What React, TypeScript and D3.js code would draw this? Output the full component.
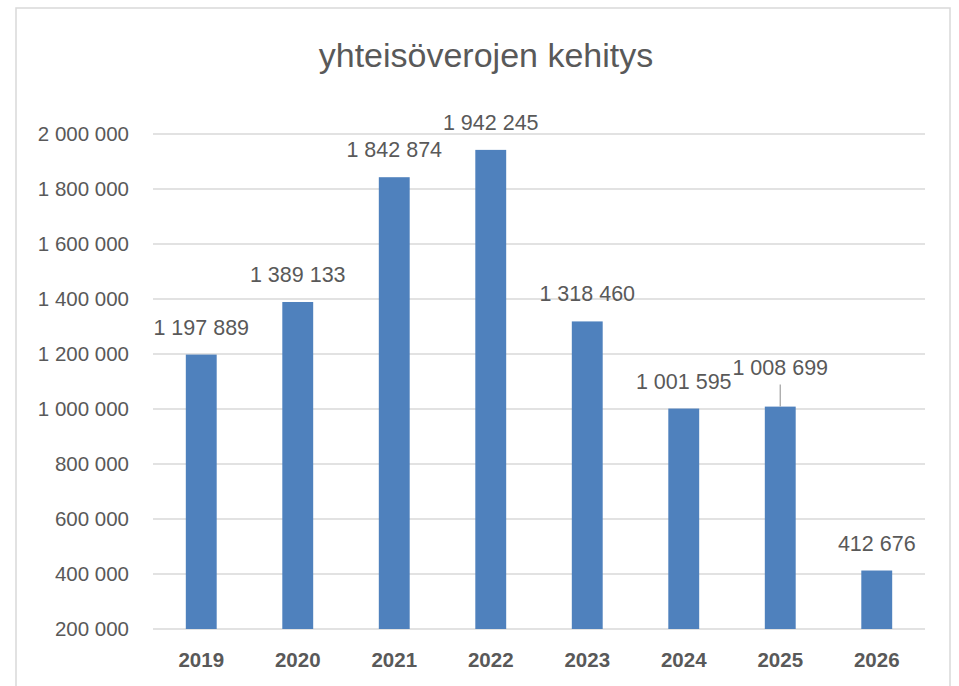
import React from "react";
import * as d3 from "d3";

const categories = ["2019", "2020", "2021", "2022", "2023", "2024", "2025", "2026"];
const values = [1197889, 1389133, 1842874, 1942245, 1318460, 1001595, 1008699, 412676];
const yTicks = [200000, 400000, 600000, 800000, 1000000, 1200000, 1400000, 1600000, 1800000, 2000000];
const title = "yhteisöverojen kehitys";

const W = 959;
const H = 686;
const plot = { left: 153, right: 925, top: 134, bottom: 629 };
const FONT = "'Liberation Sans', Arial, sans-serif";
const TEXT = "#595959";

const fmt = (v: number) => d3.format(",")(v).replace(/,/g, " ");

export default function App() {
  const x = d3.scaleBand<string>().domain(categories).range([plot.left, plot.right]).paddingInner(0.68).paddingOuter(0.34);
  const y = d3.scaleLinear().domain([200000, 2000000]).range([plot.bottom, plot.top]);

  return (
    <svg width={W} height={H} style={{ position: "absolute", left: 0, top: 0, background: "#fff" }}>
      <rect x={16} y={8} width={934} height={H + 10} fill="#fff" stroke="#d9d9d9" strokeWidth={1.5} />
      <text x={486} y={67} textAnchor="middle" fontFamily={FONT} fontSize={34} fill={TEXT}>{title}</text>
      {yTicks.map((t) => (
        <g key={t}>
          <line x1={plot.left} x2={plot.right} y1={y(t)} y2={y(t)} stroke="#d9d9d9" strokeWidth={1.3} />
          <text x={129} y={y(t)} dy="0.35em" textAnchor="end" fontFamily={FONT} fontSize={20.5} fill={TEXT}>{fmt(t)}</text>
        </g>
      ))}
      {categories.map((c, i) => {
        const bx = x(c)!;
        const cx = bx + x.bandwidth() / 2;
        const top = y(values[i]);
        const lifted = c === "2025";
        const ly = lifted ? top - 32 : top - 20;
        return (
          <g key={c}>
            <rect x={bx} y={top} width={x.bandwidth()} height={y(200000) - top} fill="#4F81BD" />
            {lifted && <line x1={cx} x2={cx} y1={top - 22} y2={top} stroke="#a6a6a6" strokeWidth={1.3} />}
            <text x={cx} y={ly} textAnchor="middle" fontFamily={FONT} fontSize={21.5} fill={TEXT}>{fmt(values[i])}</text>
            <text x={cx} y={667} textAnchor="middle" fontFamily={FONT} fontSize={20.5} fontWeight="bold" fill={TEXT}>{c}</text>
          </g>
        );
      })}
    </svg>
  );
}
